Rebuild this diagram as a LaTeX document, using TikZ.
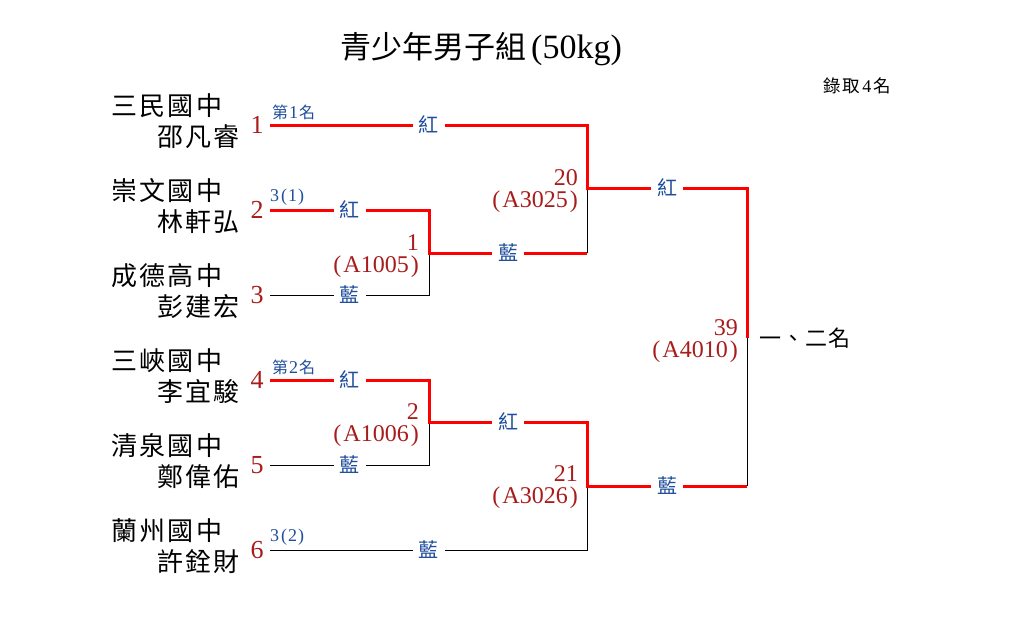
\documentclass[tikz,border=0pt]{standalone}
\usepackage{fontspec}
\setmainfont{Liberation Serif}
\newfontfamily\cjk{Noto Sans CJK TC}
\definecolor{seedred}{HTML}{A81C1C}
\definecolor{labblue}{HTML}{1F4E9C}
\definecolor{winred}{HTML}{FF0000}
\newcommand\kk{\kern2.4pt}
\newcommand\kn{\kern2pt}
\tikzset{
  win/.style={draw=winred, line width=3pt, line join=miter},
  lose/.style={draw=black, line width=0.9pt},
  lab/.style={fill=white, text=labblue, inner xsep=6pt, inner ysep=1pt, font=\cjk\fontsize{20}{20}\selectfont},
  seed/.style={text=seedred, inner sep=0pt, font=\fontsize{26}{26}\selectfont},
  matchno/.style={text=seedred, inner sep=0pt, anchor=east, align=right, font=\fontsize{24}{22}\selectfont},
  school/.style={inner sep=0pt, anchor=west, font=\cjk\fontsize{26}{26}\selectfont},
  player/.style={inner sep=0pt, anchor=east, font=\cjk\fontsize{26}{26}\selectfont},
  note/.style={inner sep=0pt, anchor=west, text=labblue, font=\fontsize{18}{18}\selectfont},
}
\begin{document}
\begin{tikzpicture}[x=1pt,y=-1pt]
\path[use as bounding box, fill=white] (0,0) rectangle (1010,635);
% title
\node[inner sep=0pt] (title) at (481,49) {{\cjk\fontsize{31}{31}\selectfont 青少年男子組}\hspace{5pt}{\fontsize{34}{34}\selectfont(50kg)}};
\node[inner sep=0pt, anchor=east] (quota) at (891,86) {{\cjk\fontsize{17.5}{17.5}\selectfont 錄\kern2pt 取}\kern2pt{\fontsize{18}{18}\selectfont 4}\kern2pt{\cjk\fontsize{17.5}{17.5}\selectfont 名}};
% schools and players
\node[school] (sc1) at (111,106) {三\kk 民\kk 國\kk 中};
\node[player] (pl1) at (240,137) {邵\kn 凡\kn 睿};
\node[school] (sc2) at (111,191) {崇\kk 文\kk 國\kk 中};
\node[player] (pl2) at (240,222) {林\kn 軒\kn 弘};
\node[school] (sc3) at (111,276) {成\kk 德\kk 高\kk 中};
\node[player] (pl3) at (240,307) {彭\kn 建\kn 宏};
\node[school] (sc4) at (111,361) {三\kk 峽\kk 國\kk 中};
\node[player] (pl4) at (240,392) {李\kn 宜\kn 駿};
\node[school] (sc5) at (111,446) {清\kk 泉\kk 國\kk 中};
\node[player] (pl5) at (240,477) {鄭\kn 偉\kn 佑};
\node[school] (sc6) at (111,531) {蘭\kk 州\kk 國\kk 中};
\node[player] (pl6) at (240,562) {許\kn 銓\kn 財};
% seeds
\node[seed] (n1) at (257,125) {1};
\node[seed] (n2) at (257,210) {2};
\node[seed] (n3) at (257,295) {3};
\node[seed] (n4) at (257,380) {4};
\node[seed] (n5) at (257,465) {5};
\node[seed] (n6) at (257,550) {6};
% notes above lines
\node[note] (t1) at (272,112) {{\cjk\fontsize{16}{16}\selectfont 第}\kern1pt 1\kern1pt{\cjk\fontsize{16}{16}\selectfont 名}};
\node[note] (t2) at (270,197) {3\kern2pt(\kern1pt 1\kern1pt)};
\node[note] (t4) at (272,367) {{\cjk\fontsize{16}{16}\selectfont 第}\kern1pt 2\kern1pt{\cjk\fontsize{16}{16}\selectfont 名}};
\node[note] (t6) at (270,537) {3\kern2pt(\kern1pt 2\kern1pt)};
% bracket coordinates
\coordinate (p1) at (270,125);
\coordinate (p2) at (270,210);
\coordinate (p3) at (270,295);
\coordinate (p4) at (270,380);
\coordinate (p5) at (270,465);
\coordinate (p6) at (270,550);
\coordinate (m1) at (429,253);
\coordinate (m2) at (429,422);
\coordinate (m20) at (587,188);
\coordinate (m21) at (587,486);
\coordinate (m39) at (747,338);
% losing lines
\draw[lose] (p3) -- node[lab]{藍} (p3 -| m1) -- (m1);
\draw[lose] (m1 -| m20) -- (m20);
\draw[lose] (p5) -- node[lab]{藍} (p5 -| m2) -- (m2);
\draw[lose] (p6) -- node[lab]{藍} (p6 -| m21) -- (m21);
\draw[lose] (m21 -| m39) -- (m39);
% winning lines
\draw[win] (p1) -- node[lab]{紅} (p1 -| m20) -- (m20) -- node[lab]{紅} (m20 -| m39) -- (m39);
\draw[win] (p2) -- node[lab]{紅} (p2 -| m1) -- (m1) -- node[lab]{藍} (m1 -| m20);
\draw[win] (p4) -- node[lab]{紅} (p4 -| m2) -- (m2) -- node[lab]{紅} (m2 -| m21) -- (m21) -- node[lab]{藍} (m21 -| m39);
% match numbers
\node[matchno] (k1) at (419,256) {1\\(\kern2pt A1005\kern2pt)};
\node[matchno] (k2) at (419,425) {2\\(\kern2pt A1006\kern2pt)};
\node[matchno] (k20) at (578,191) {20\\(\kern2pt A3025\kern2pt)};
\node[matchno] (k21) at (578,487) {21\\(\kern2pt A3026\kern2pt)};
\node[matchno] (k39) at (738,341) {39\\(\kern2pt A4010\kern2pt)};
% result
\node[inner sep=0pt, anchor=west, font=\cjk\fontsize{22}{22}\selectfont] (res) at (759,338) {一\kern1pt 、\kern1pt 二\kern1pt 名};
\end{tikzpicture}
\end{document}
